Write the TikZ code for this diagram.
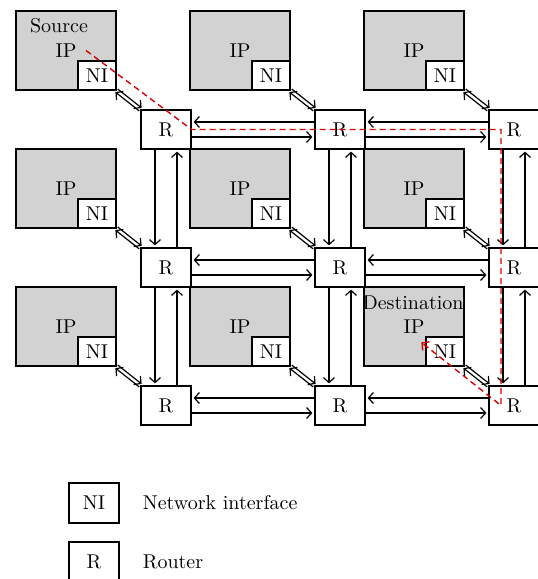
\documentclass[tikz,border=0pt]{standalone}
\usetikzlibrary{arrows.meta,positioning}
\begin{document}
\begin{tikzpicture}[x=0.5pt, y=-0.5pt, line width=0.6pt,
  >={Straight Barb[length=2.5pt,width=5.5pt]},
  ipbox/.style={draw, fill=gray!35, minimum width=50pt, minimum height=39.5pt, inner sep=0pt},
  nibox/.style={draw, fill=white, minimum width=19pt, minimum height=14.5pt, inner sep=0pt, anchor=south east},
  router/.style={draw, fill=white, minimum width=25pt, minimum height=19.5pt, inner sep=0pt},
  keybox/.style={draw, minimum width=25pt, minimum height=20pt, inner sep=0pt},
  route/.style={red!85!black, dash pattern=on 3pt off 2pt, line width=0.7pt}]
  \useasboundingbox (0,0) rectangle (537,579);

  % tiles: IP core, network interface and router
  \foreach \i in {0,1,2} {
    \foreach \j in {0,1,2} {
      \node[ipbox] (ip\i\j) at (66+174*\i, 50.5+138*\j) {IP};
      \node[nibox] (ni\i\j) at (ip\i\j.south east) {NI};
      \node[router] (r\i\j) at (166+174*\i, 129.5+138*\j) {R};
      \draw[->] ([shift={(1.2,-1.5)}]ni\i\j.south east) -- ([shift={(1.2,-1.5)}]r\i\j.north west);
      \draw[->] ([shift={(-1.2,1.5)}]r\i\j.north west) -- ([shift={(-1.2,1.5)}]ni\i\j.south east);
    }
  }

  % links between routers
  \foreach \i in {0,1} {
    \foreach \j in {0,1,2} {
      \pgfmathtruncatemacro\k{\i+1}
      \draw[->, shorten >=1pt] ([yshift=3.75pt]r\k\j.west) -- ([yshift=3.75pt]r\i\j.east);
      \draw[->, shorten >=1pt] ([yshift=-3.75pt]r\i\j.east) -- ([yshift=-3.75pt]r\k\j.west);
    }
  }
  \foreach \i in {0,1,2} {
    \foreach \j in {0,1} {
      \pgfmathtruncatemacro\k{\j+1}
      \draw[->, shorten >=1pt] ([xshift=-5.5pt]r\i\j.south) -- ([xshift=-5.5pt]r\i\k.north);
      \draw[->, shorten >=1pt] ([xshift=5.5pt]r\i\k.north) -- ([xshift=5.5pt]r\i\j.south);
    }
  }

  \node (srclbl) at ([shift={(-7,-25)}]ip00.center) {Source};
  \node (dstlbl) at ([shift={(-1,-24)}]ip22.center) {Destination};

  % packet route
  \coordinate (src) at ([shift={(20,0)}]ip00.center);
  \coordinate (dst) at ([shift={(-4,6)}]ni22.north west);
  \draw[route, ->] (src) -- (r00.east) -- ([xshift=-6.5pt]r20.center)
    -- ([xshift=-6.5pt]r22.center) -- (dst);

  % key
  \node[keybox] (keyni) at (94,503) {NI};
  \node[right=8pt of keyni] (keynitxt) {Network interface};
  \node[keybox] (keyr) at (94,562) {R};
  \node[right=8pt of keyr] (keyrtxt) {Router};
\end{tikzpicture}
\end{document}
